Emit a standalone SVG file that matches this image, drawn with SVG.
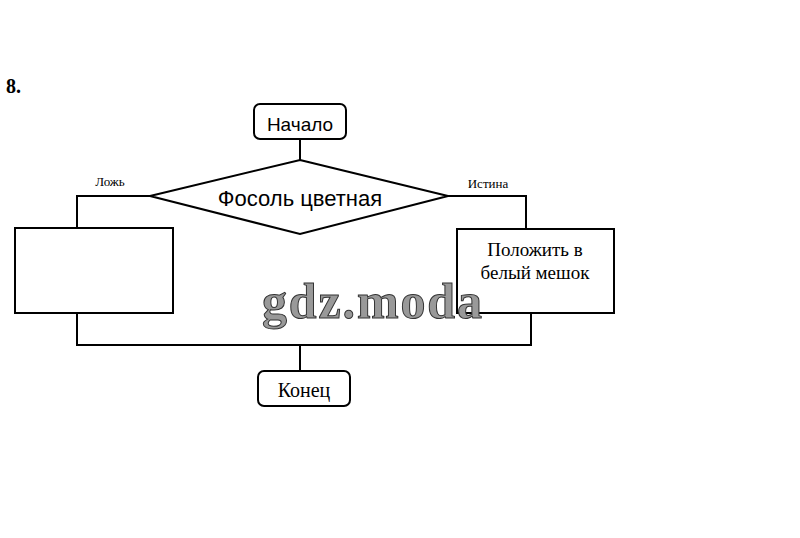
<svg xmlns="http://www.w3.org/2000/svg" width="800" height="538" viewBox="0 0 800 538">
<style>
.box{fill:#fff;stroke:#000;stroke-width:2}
.ln{fill:none;stroke:#000;stroke-width:2}
.t{font-family:"Liberation Serif",serif;fill:#000;text-anchor:middle}
.s{font-family:"Liberation Sans",Arial,sans-serif;fill:#000;text-anchor:middle}
</style>
<rect width="800" height="538" fill="#fff"/>
<text x="6" y="93" font-family="Liberation Serif,serif" font-weight="bold" font-size="20">8.</text>
<g id="connectors">
<path class="ln" d="M300,139 V160"/>
<path class="ln" d="M150,196 H77 V228"/>
<path class="ln" d="M448,196 H526 V229"/>
<path class="ln" d="M77,313 V345 H531 V313"/>
<path class="ln" d="M300,345 V371"/>
</g>
<g id="start">
<rect class="box" x="254" y="104" width="92" height="35" rx="6"/>
<text class="s" x="300" y="131" font-size="19">Начало</text>
</g>
<g id="decision">
<polygon class="box" points="300,160 448,196 300,234 150,196"/>
<text class="s" x="300" y="206" font-size="22">Фосоль цветная</text>
<text class="t" x="110" y="186" font-size="13">Ложь</text>
<text class="t" x="488" y="188" font-size="13">Истина</text>
</g>
<g id="false-action">
<rect class="box" x="15" y="228" width="158" height="85"/>
</g>
<g id="true-action">
<rect class="box" x="457" y="229" width="157" height="84"/>
<text class="t" x="535" y="256" font-size="19">Положить в</text>
<text class="t" x="535" y="279" font-size="19">белый мешок</text>
</g>
<g id="end">
<rect class="box" x="258" y="371" width="92" height="35" rx="6"/>
<text class="t" x="304" y="397" font-size="20">Конец</text>
</g>
<text x="262" y="318" font-family="Liberation Serif,serif" font-weight="bold" font-size="50" textLength="220" fill="#999" stroke="#333" stroke-width="1">gdz.moda</text>
</svg>
